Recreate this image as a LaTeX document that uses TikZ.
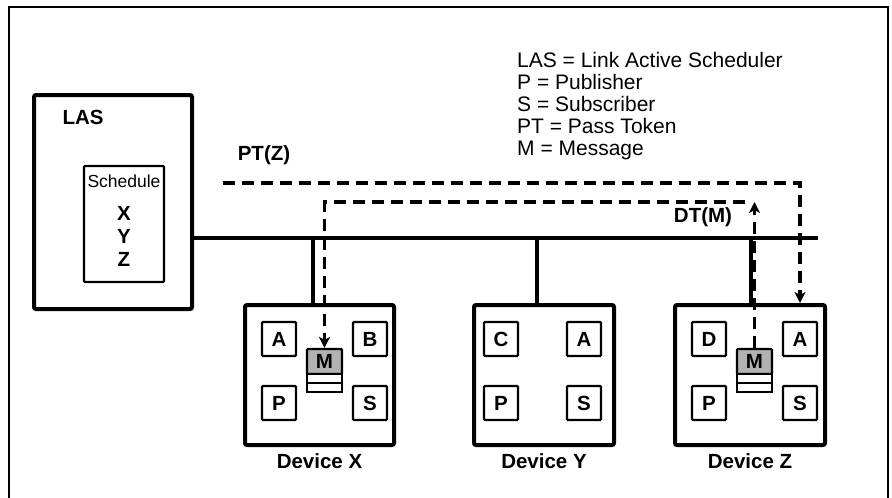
\documentclass[tikz,border=0pt]{standalone}
\usepackage{fontspec}
\setmainfont{Liberation Sans}
\usetikzlibrary{arrows.meta,positioning}
\definecolor{MsgClr}{rgb}{0.7,0.7,0.7}

\tikzset{
  boldlbl/.style={font=\fontsize{20.5}{23}\selectfont\bfseries,inner sep=0pt},
  lasbox/.style={draw,line width=4pt,rounded corners=2pt,minimum width=158pt,minimum height=214pt,inner sep=0pt},
  devbox/.style={draw,line width=4pt,rounded corners=2pt,minimum width=#1,minimum height=140pt,inner sep=0pt},
  itembox/.style={draw,line width=2.2pt,rounded corners=1pt,minimum size=34pt,inner sep=0pt,font=\fontsize{20.5}{23}\selectfont\bfseries},
  msgbox/.style={draw,line width=2.2pt,rounded corners=1pt,fill=MsgClr,minimum width=35pt,minimum height=25pt,inner sep=0pt,font=\fontsize{20.5}{23}\selectfont\bfseries},
  stripe/.style={draw,line width=2.2pt,fill=white,minimum width=35pt,minimum height=9pt,inner sep=0pt},
  busline/.style={line width=3.3pt},
  dashline/.style={line width=3.3pt,dash pattern=on 12pt off 7pt},
  tip/.style={-{Stealth[length=11pt,width=11pt,inset=3pt]}}
}

\begin{document}
\begin{tikzpicture}[x=1pt,y=-1pt]
\useasboundingbox (0,0) rectangle (892,498);
\draw[line width=2.2pt] (9,498) -- (9,7) -- (888,7) -- (888,498);

\node[lasbox] (las) at (113,202) {};
\node[boldlbl] (lasLbl) at (83,117) {LAS};
\node[draw,line width=2.2pt,rounded corners=1pt,minimum width=80pt,minimum height=116pt,inner sep=0pt] (sched) at (124,224) {};
\node[inner sep=0pt,font=\fontsize{17.5}{20}\selectfont] (schedLbl) at (124,181) {Schedule};
\node[boldlbl] (sX) at (124,213) {X};
\node[boldlbl] (sY) at (124,236) {Y};
\node[boldlbl] (sZ) at (124,259) {Z};

\node[devbox=149pt] (devX) at (319.5,375) {};
\node[devbox=140pt] (devY) at (544,375) {};
\node[devbox=150pt] (devZ) at (750,375) {};
\node[boldlbl,below=6pt of devX] (devXLbl) {Device X};
\node[boldlbl,below=6pt of devY] (devYLbl) {Device Y};
\node[boldlbl,below=6pt of devZ] (devZLbl) {Device Z};

\node[itembox] (aX) at (279,339) {A};
\node[itembox] (bX) at (370,339) {B};
\node[itembox] (pX) at (279,403) {P};
\node[itembox] (sSX) at (370,403) {S};
\node[itembox] (cY) at (501,339) {C};
\node[itembox] (aY) at (584,339) {A};
\node[itembox] (pY) at (501,403) {P};
\node[itembox] (sSY) at (584,403) {S};
\node[itembox] (dZ) at (709,339) {D};
\node[itembox] (aZ) at (800,339) {A};
\node[itembox] (pZ) at (709,403) {P};
\node[itembox] (sSZ) at (800,403) {S};

\node[msgbox] (mX) at (324.5,361.5) {M};
\node[stripe,below=-2.2pt of mX] (mX1) {};
\node[stripe,below=-2.2pt of mX1] (mX2) {};
\node[msgbox] (mZ) at (754.5,361.5) {M};
\node[stripe,below=-2.2pt of mZ] (mZ1) {};
\node[stripe,below=-2.2pt of mZ1] (mZ2) {};

\coordinate (busR) at (818,238);
\coordinate (dropX) at (313,238);
\coordinate (dropY) at (537,238);
\coordinate (dropZ) at (751,238);
\draw[busline] (las.east |- busR) -- (busR);
\draw[busline] (dropX) -- (dropX |- devX.north);
\draw[busline] (dropY) -- (dropY |- devY.north);
\draw[busline] (dropZ) -- (dropZ |- devZ.north);

\coordinate (ptL) at (223,183);
\coordinate (dtL) at (745,202);
\coordinate (dtTop) at (754.5,202);
\draw[dashline,tip] (ptL) -| (aZ |- devZ.north);
\draw[dashline,tip] (dtL) -| (mX.north);
\draw[dashline,tip] (mZ.north) -- (mZ.north |- dtTop);

\node[boldlbl] (ptLbl) at (264,155) {PT(Z)};
\node[boldlbl] (dtLbl) at (703,217) {DT(M)};

\node[anchor=base west,align=left,inner sep=0pt,font=\fontsize{21}{22}\selectfont] (legend) at (517,155)
  {LAS = Link Active Scheduler\\P = Publisher\\S = Subscriber\\PT = Pass Token\\M = Message};

\end{tikzpicture}
\end{document}
